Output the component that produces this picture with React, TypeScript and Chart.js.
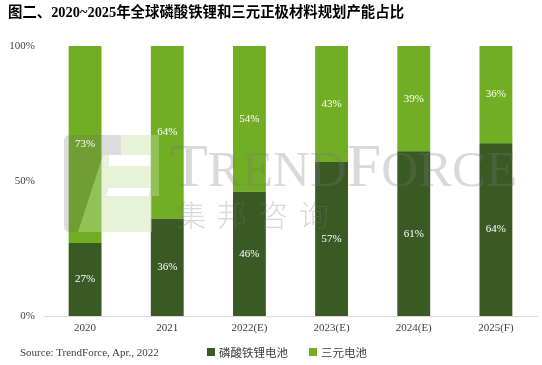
import React, { useEffect, useRef } from "react";
import { Chart, registerables } from "chart.js";

Chart.register(...registerables);

const categories = ["2020", "2021", "2022(E)", "2023(E)", "2024(E)", "2025(F)"];
const lfpShare = [27, 36, 46, 57, 61, 64];
const nmcShare = [73, 64, 54, 43, 39, 36];
const yTicks = [0, 50, 100];
const seriesNames = ["磷酸铁锂电池", "三元电池"];
const colors = ["#3A5A24", "#72AE24"];

const SERIF = "'Times New Roman', 'Liberation Serif', 'Noto Sans CJK SC', serif";
const CJK = "'Noto Sans CJK SC', 'Liberation Sans', sans-serif";

const watermarkPlugin = {
  id: "watermark",
  afterDatasetsDraw(chart: any) {
    const ctx = chart.ctx as CanvasRenderingContext2D;
    ctx.save();
    // logo: gray part
    ctx.fillStyle = "rgba(110,110,110,0.24)";
    ctx.beginPath();
    ctx.moveTo(70, 135);
    ctx.lineTo(121, 135);
    ctx.lineTo(121, 155);
    ctx.lineTo(103, 155);
    ctx.lineTo(78, 232);
    ctx.lineTo(70, 232);
    ctx.quadraticCurveTo(64, 232, 64, 226);
    ctx.lineTo(64, 141);
    ctx.quadraticCurveTo(64, 135, 70, 135);
    ctx.closePath();
    ctx.fill();
    // logo: light green part with cutouts
    ctx.fillStyle = "rgba(195,222,160,0.4)";
    ctx.beginPath();
    ctx.moveTo(121, 135);
    ctx.lineTo(159, 135);
    ctx.lineTo(159, 196);
    ctx.lineTo(152, 196);
    ctx.lineTo(152, 232);
    ctx.lineTo(78, 232);
    ctx.lineTo(103, 155);
    ctx.lineTo(121, 155);
    ctx.closePath();
    ctx.moveTo(109, 155);
    ctx.lineTo(151, 155);
    ctx.lineTo(151, 166);
    ctx.lineTo(109, 166);
    ctx.closePath();
    ctx.moveTo(109, 188);
    ctx.lineTo(151, 188);
    ctx.lineTo(148, 196);
    ctx.lineTo(106, 196);
    ctx.closePath();
    ctx.fill("evenodd");

    // TRENDFORCE text (small caps style)
    ctx.fillStyle = "rgba(120,120,120,0.28)";
    ctx.textBaseline = "alphabetic";
    ctx.textAlign = "left";
    const word = "TRENDFORCE";
    let x = 170;
    for (let i = 0; i < word.length; i++) {
      const ch = word[i];
      const big = (ch === "T" && i === 0) || (ch === "F" && i === 5);
      ctx.font = `${big ? 62 : 51}px ${SERIF}`;
      ctx.fillText(ch, x, 186);
      x += ctx.measureText(ch).width;
    }
    // 集邦咨询
    ctx.font = `300 30px ${CJK}`;
    const cn = "集邦咨询";
    for (let i = 0; i < cn.length; i++) {
      ctx.fillText(cn[i], 176 + i * 41, 226);
    }
    ctx.restore();
  },
};

const labelPlugin = {
  id: "segLabels",
  afterDraw(chart: any) {
    const ctx = chart.ctx as CanvasRenderingContext2D;
    ctx.save();
    ctx.fillStyle = "#FFFFFF";
    ctx.font = `11px ${SERIF}`;
    ctx.textAlign = "center";
    ctx.textBaseline = "middle";
    chart.data.datasets.forEach((ds: any, di: number) => {
      const meta = chart.getDatasetMeta(di);
      meta.data.forEach((el: any, i: number) => {
        const y = (el.y + el.base) / 2;
        ctx.fillText(ds.data[i] + "%", el.x, y);
      });
    });
    ctx.restore();
  },
};

export default function App() {
  const ref = useRef<HTMLCanvasElement>(null);
  useEffect(() => {
    if (!ref.current) return;
    const chart = new Chart(ref.current, {
      type: "bar",
      data: {
        labels: categories,
        datasets: [
          { label: seriesNames[0], data: lfpShare, backgroundColor: colors[0], barPercentage: 0.4, categoryPercentage: 1 },
          { label: seriesNames[1], data: nmcShare, backgroundColor: colors[1], barPercentage: 0.4, categoryPercentage: 1 },
        ],
      },
      options: {
        animation: false,
        responsive: false,
        devicePixelRatio: 1,
        layout: { padding: { left: 0, right: 5, top: 46, bottom: 0 } },
        plugins: { legend: { display: false }, tooltip: { enabled: false }, title: { display: false } },
        scales: {
          x: {
            stacked: true,
            grid: { display: false, drawTicks: false },
            border: { display: true, color: "#D9D9D9", width: 1 },
            ticks: { color: "#404040", font: { family: SERIF, size: 11 }, padding: 6 },
            afterFit: (s: any) => { s.height = 49; },
          },
          y: {
            stacked: true,
            min: 0,
            max: 100,
            afterBuildTicks: (s: any) => { s.ticks = yTicks.map((v) => ({ value: v })); },
            grid: { display: false, drawTicks: false },
            border: { display: false },
            ticks: { color: "#404040", font: { family: SERIF, size: 11 }, padding: 9, callback: (v: any) => v + "%" },
            afterFit: (s: any) => { s.width = 44; },
          },
        },
      },
      plugins: [watermarkPlugin, labelPlugin],
    });
    return () => chart.destroy();
  }, []);

  return (
    <div style={{ position: "fixed", left: 0, top: 0, width: 542, height: 365, background: "#fff" }}>
      <canvas ref={ref} width={542} height={365} style={{ position: "absolute", left: 0, top: 0 }} />
      <div style={{ position: "absolute", left: 8, top: 3, fontFamily: SERIF, fontWeight: "bold", fontSize: 14.4, lineHeight: "19px", color: "#000", whiteSpace: "nowrap" }}>
        图二、2020~2025年全球磷酸铁锂和三元正极材料规划产能占比
      </div>
      <div style={{ position: "absolute", left: 20, top: 344, fontFamily: SERIF, fontSize: 11, lineHeight: "16px", color: "#404040", whiteSpace: "nowrap" }}>
        Source: TrendForce, Apr., 2022
      </div>
      <div style={{ position: "absolute", left: 207, top: 344, display: "flex", alignItems: "center", fontFamily: CJK, fontSize: 11.5, lineHeight: "16px", color: "#404040", whiteSpace: "nowrap" }}>
        <span style={{ display: "inline-block", width: 8, height: 8, background: colors[0], marginRight: 4 }} />
        <span>{seriesNames[0]}</span>
        <span style={{ display: "inline-block", width: 8, height: 8, background: colors[1], marginLeft: 21, marginRight: 4 }} />
        <span>{seriesNames[1]}</span>
      </div>
    </div>
  );
}
